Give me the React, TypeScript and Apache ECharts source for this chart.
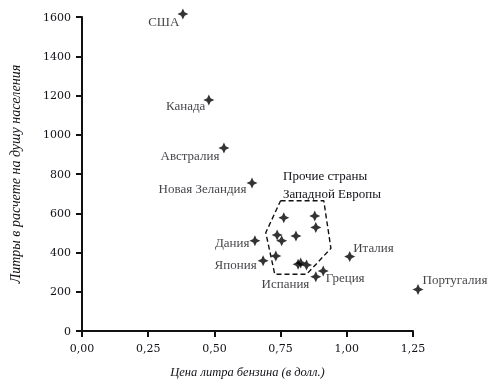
import React, { useEffect, useRef } from "react";
import * as echarts from "echarts";

const countries = ["США", "Канада", "Австралия", "Новая Зеландия", "Дания", "Япония", "Испания", "Греция", "Италия", "Португалия"];
const prices = [0.381, 0.479, 0.536, 0.642, 0.653, 0.684, 0.883, 0.911, 1.011, 1.269];
const consumption = [1615, 1177, 932, 754, 460, 358, 277, 306, 379, 212];

const otherPrices = [0.762, 0.879, 0.883, 0.737, 0.808, 0.754, 0.732, 0.816, 0.826, 0.848];
const otherConsumption = [577, 586, 528, 489, 484, 460, 382, 340, 346, 336];

const hullX = [0.75, 0.913, 0.94, 0.848, 0.728, 0.694, 0.75];
const hullY = [664, 664, 421, 289, 289, 501, 664];

const xTicks = [0, 0.25, 0.5, 0.75, 1.0, 1.25];
const yTicks = [0, 200, 400, 600, 800, 1000, 1200, 1400, 1600];

const groupLabel = "Прочие страны\nЗападной Европы";
const xTitle = "Цена литра бензина (в долл.)";
const yTitle = "Литры в расчете на душу населения";

// label placement (style, not data)
const labelPlacement: Record<string, { pos: string; off: [number, number] }> = {
  "США": { pos: "left", off: [2, 7] },
  "Канада": { pos: "left", off: [2, 5] },
  "Австралия": { pos: "left", off: [1, 7] },
  "Новая Зеландия": { pos: "left", off: [0, 5] },
  "Дания": { pos: "left", off: [0, 2] },
  "Япония": { pos: "left", off: [-1, 4] },
  "Испания": { pos: "left", off: [-1, 7] },
  "Греция": { pos: "right", off: [-3, 7] },
  "Италия": { pos: "right", off: [-2, -9] },
  "Португалия": { pos: "right", off: [-1, -10] },
};

const starPath = "path://M5,0 L6.6,3.4 L10,5 L6.6,6.6 L5,10 L3.4,6.6 L0,5 L3.4,3.4 Z";
const textColor = "#111118";
const serif = "Liberation Serif";
const tickFont = "DejaVu Serif";

export default function App() {
  const ref = useRef<HTMLDivElement>(null);
  useEffect(() => {
    if (!ref.current) return;
    const chart = echarts.init(ref.current, null, { renderer: "svg" });
    const fmt = (v: number) => v.toFixed(2).replace(".", ",");
    const countryData = countries.map((c, i) => ({
      value: [prices[i], consumption[i]],
      name: c,
      label: {
        show: true,
        formatter: c,
        position: labelPlacement[c].pos,
        distance: 0,
        offset: labelPlacement[c].off,
        color: textColor,
        fontFamily: serif,
        fontSize: 13,
      },
    }));
    chart.setOption({
      animation: false,
      grid: { left: 82, right: 84, top: 17, bottom: 52, outerBoundsMode: "none", containLabel: false },
      xAxis: {
        type: "value",
        min: xTicks[0],
        max: xTicks[xTicks.length - 1],
        interval: 0.25,
        name: xTitle,
        nameLocation: "middle",
        nameGap: 34,
        nameTextStyle: { fontFamily: serif, fontStyle: "italic", fontSize: 12.5, color: textColor },
        axisLine: { lineStyle: { color: "#111", width: 2 } },
        axisTick: { length: 6, lineStyle: { color: "#111", width: 2 } },
        axisLabel: { formatter: fmt, margin: 12, fontFamily: tickFont, fontSize: 11, color: textColor },
        splitLine: { show: false },
      },
      yAxis: {
        type: "value",
        min: yTicks[0],
        max: yTicks[yTicks.length - 1],
        interval: 200,
        name: yTitle,
        nameLocation: "middle",
        nameRotate: 90,
        nameGap: 60,
        nameTextStyle: { fontFamily: serif, fontStyle: "italic", fontSize: 14, color: textColor },
        axisLine: { show: true, lineStyle: { color: "#111", width: 2 } },
        axisTick: { show: true, length: 6, lineStyle: { color: "#111", width: 2 } },
        axisLabel: { formatter: (v: number) => String(v), margin: 11, fontFamily: tickFont, fontSize: 11, color: textColor },
        splitLine: { show: false },
      },
      graphic: [
        {
          type: "text",
          left: 283,
          top: 166,
          style: {
            text: groupLabel,
            fontFamily: serif,
            fontSize: 13,
            lineHeight: 18,
            fill: textColor,
          },
        },
      ],
      series: [
        {
          type: "line",
          data: hullX.map((x, i) => [x, hullY[i]]),
          symbol: "none",
          silent: true,
          clip: false,
          lineStyle: { color: "#111", width: 1.4, type: [5, 3] },
          z: 1,
        },
        {
          type: "scatter",
          data: otherPrices.map((x, i) => [x, otherConsumption[i]]),
          symbol: starPath,
          symbolSize: 11,
          clip: false,
          itemStyle: { color: "#000" },
          z: 3,
        },
        {
          type: "scatter",
          data: countryData,
          symbol: starPath,
          symbolSize: 11,
          clip: false,
          itemStyle: { color: "#000" },
          z: 3,
        },
      ],
    });
    return () => chart.dispose();
  }, []);
  return <div ref={ref} style={{ width: 497, height: 383, position: "fixed", left: 0, top: 0 }} />;
}
